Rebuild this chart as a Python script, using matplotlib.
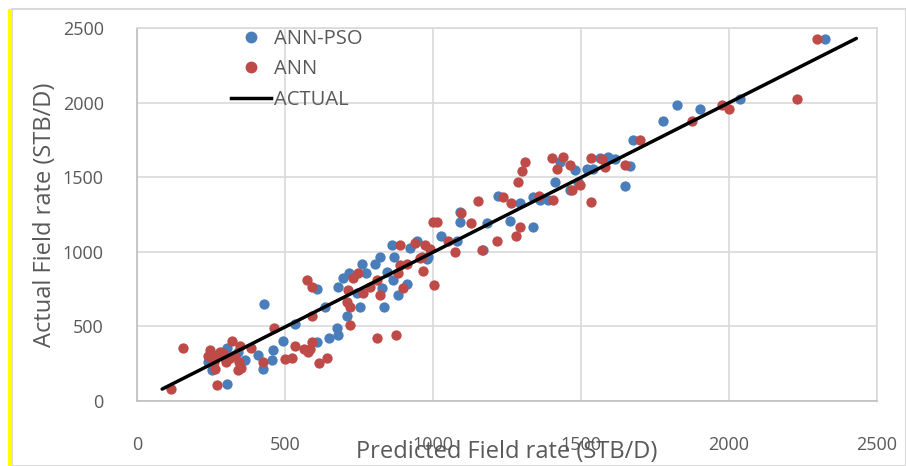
import matplotlib
matplotlib.use("Agg")
import matplotlib.pyplot as plt
from matplotlib.patches import Rectangle
from matplotlib.lines import Line2D

# ANN-PSO predictions (x = predicted, y = actual)
pso_pred = [2324, 2037, 1902, 1825, 1778, 1677, 1666, 1649, 1615, 1592, 1564, 1540,
            1521, 1491, 1480, 1462, 1429, 1412, 1390, 1361, 1339, 1339, 1294, 1260,
            1221, 1181, 1170, 1091, 1091, 1080, 1026, 984, 979, 945, 922, 869, 866,
            860, 846, 834, 827, 821, 804, 775, 759, 753, 742, 717, 708, 695, 680,
            678, 674, 647, 635, 607, 607, 534, 494, 458, 455, 430, 427, 410, 365,
            342, 303, 252, 241, 303, 883, 913, 266, 330]
pso_act = [2424, 2024, 1957, 1982, 1879, 1749, 1575, 1443, 1622, 1633, 1626, 1555,
           1552, 1470, 1548, 1414, 1604, 1470, 1347, 1347, 1369, 1164, 1329, 1205,
           1374, 1190, 1012, 1269, 1197, 1075, 1104, 967, 950, 1075, 1023, 963, 808,
           1046, 867, 628, 755, 967, 916, 860, 916, 632, 722, 856, 570, 822, 766,
           442, 487, 420, 628, 748, 397, 514, 402, 342, 275, 653, 212, 308, 275,
           330, 353, 208, 263, 114, 710, 782, 300, 310]

# ANN predictions
ann_pred = [2296, 2231, 1977, 2000, 1876, 1699, 1649, 1581, 1570, 1533, 1533, 1497,
            1468, 1463, 1440, 1418, 1401, 1407, 1359, 1311, 1300, 1288, 1262, 1238,
            1294, 1281, 1153, 1093, 1001, 1012, 1127, 1215, 1164, 1074, 1052, 973,
            989, 962, 967, 1003, 889, 939, 956, 889, 913, 883, 898, 745, 731, 810,
            787, 764, 821, 714, 708, 720, 720, 590, 573, 590, 590, 810, 875, 463,
            534, 564, 584, 579, 616, 641, 523, 500, 425, 384, 348, 320, 346, 353,
            280, 247, 252, 264, 269, 154, 114, 297, 314, 240, 270, 290, 330, 260,
            300, 340]
ann_act = [2424, 2024, 1984, 1955, 1879, 1749, 1582, 1570, 1622, 1626, 1336, 1448,
           1414, 1582, 1633, 1552, 1626, 1347, 1374, 1604, 1543, 1465, 1325, 1369,
           1164, 1107, 1340, 1262, 1202, 1197, 1190, 1075, 1012, 997, 1072, 1046,
           1018, 967, 871, 777, 1046, 1056, 956, 912, 916, 856, 755, 858, 822, 811,
           766, 722, 710, 744, 666, 632, 509, 572, 811, 766, 397, 420, 442, 487,
           369, 346, 346, 330, 253, 286, 286, 279, 263, 353, 369, 402, 263, 218,
           330, 342, 297, 212, 107, 357, 80, 286, 286, 300, 310, 320, 300, 260,
           260, 210]

# ACTUAL reference line
actual_x = [85, 2430]
actual_y = [80, 2430]

ticks = [0, 500, 1000, 1500, 2000, 2500]
tick_labels = ["0", "500", "1000", "1500", "2000", "2500"]

plt.rcParams['font.family'] = ['Open Sans', 'DejaVu Sans']
text_col = '#595959'
grid_col = '#d9d9d9'

fig = plt.figure(figsize=(9.06, 4.66), dpi=100)
ax = fig.add_axes([137/906, 1-401/466, (877-137)/906, (401-28)/466])

# frame decorations
fig.patches.append(Rectangle((12/906, 0), 1-12/906, 1-9/466, transform=fig.transFigure,
                             fill=False, edgecolor='#d9d9d9', linewidth=1.5))
fig.patches.append(Rectangle((8/906, 0), 4/906, 1-9/466, transform=fig.transFigure,
                             facecolor='#ffff00', edgecolor='none'))

ax.scatter(pso_pred, pso_act, s=55, color='#4a7ebb', zorder=3, label='ANN-PSO', linewidths=0)
ax.scatter(ann_pred, ann_act, s=55, color='#be4b48', zorder=3, label='ANN', linewidths=0)
ax.plot(actual_x, actual_y, color='black', linewidth=2.5, zorder=4, label='ACTUAL',
        solid_capstyle='round')

ax.set_xlim(0, 2500)
ax.set_ylim(0, 2500)
ax.set_xticks(ticks)
ax.set_xticklabels(tick_labels)
ax.set_yticks(ticks)
ax.set_yticklabels(tick_labels)
ax.grid(True, color=grid_col, linewidth=1.2, zorder=0)
ax.set_axisbelow(True)
for sp in ax.spines.values():
    sp.set_color(grid_col)
    sp.set_linewidth(1.2)
ax.spines['left'].set_color('#bfbfbf')
ax.spines['bottom'].set_color('#bfbfbf')
ax.tick_params(axis='both', length=0, colors=text_col, labelsize=13)
ax.tick_params(axis='x', pad=25)
ax.tick_params(axis='y', pad=24)

ax.set_xlabel('Predicted Field rate (STB/D)', color=text_col, fontsize=17, labelpad=-10)
ax.set_ylabel('Actual Field rate (STB/D)', color=text_col, fontsize=17, labelpad=4)

handles = [Line2D([], [], marker='o', linestyle='none', color='#4a7ebb', markersize=7.5),
           Line2D([], [], marker='o', linestyle='none', color='#be4b48', markersize=7.5),
           Line2D([], [], color='black', linewidth=2.5)]
leg = ax.legend(handles, ['ANN-PSO', 'ANN', 'ACTUAL'], loc='upper left',
                bbox_to_anchor=(0.108, 1.034), frameon=False, fontsize=14.5,
                handlelength=2.0, handletextpad=0.15, labelspacing=0.5, borderpad=0.2)
for t in leg.get_texts():
    t.set_color(text_col)

fig.savefig('out.png', dpi=100, facecolor='white')
